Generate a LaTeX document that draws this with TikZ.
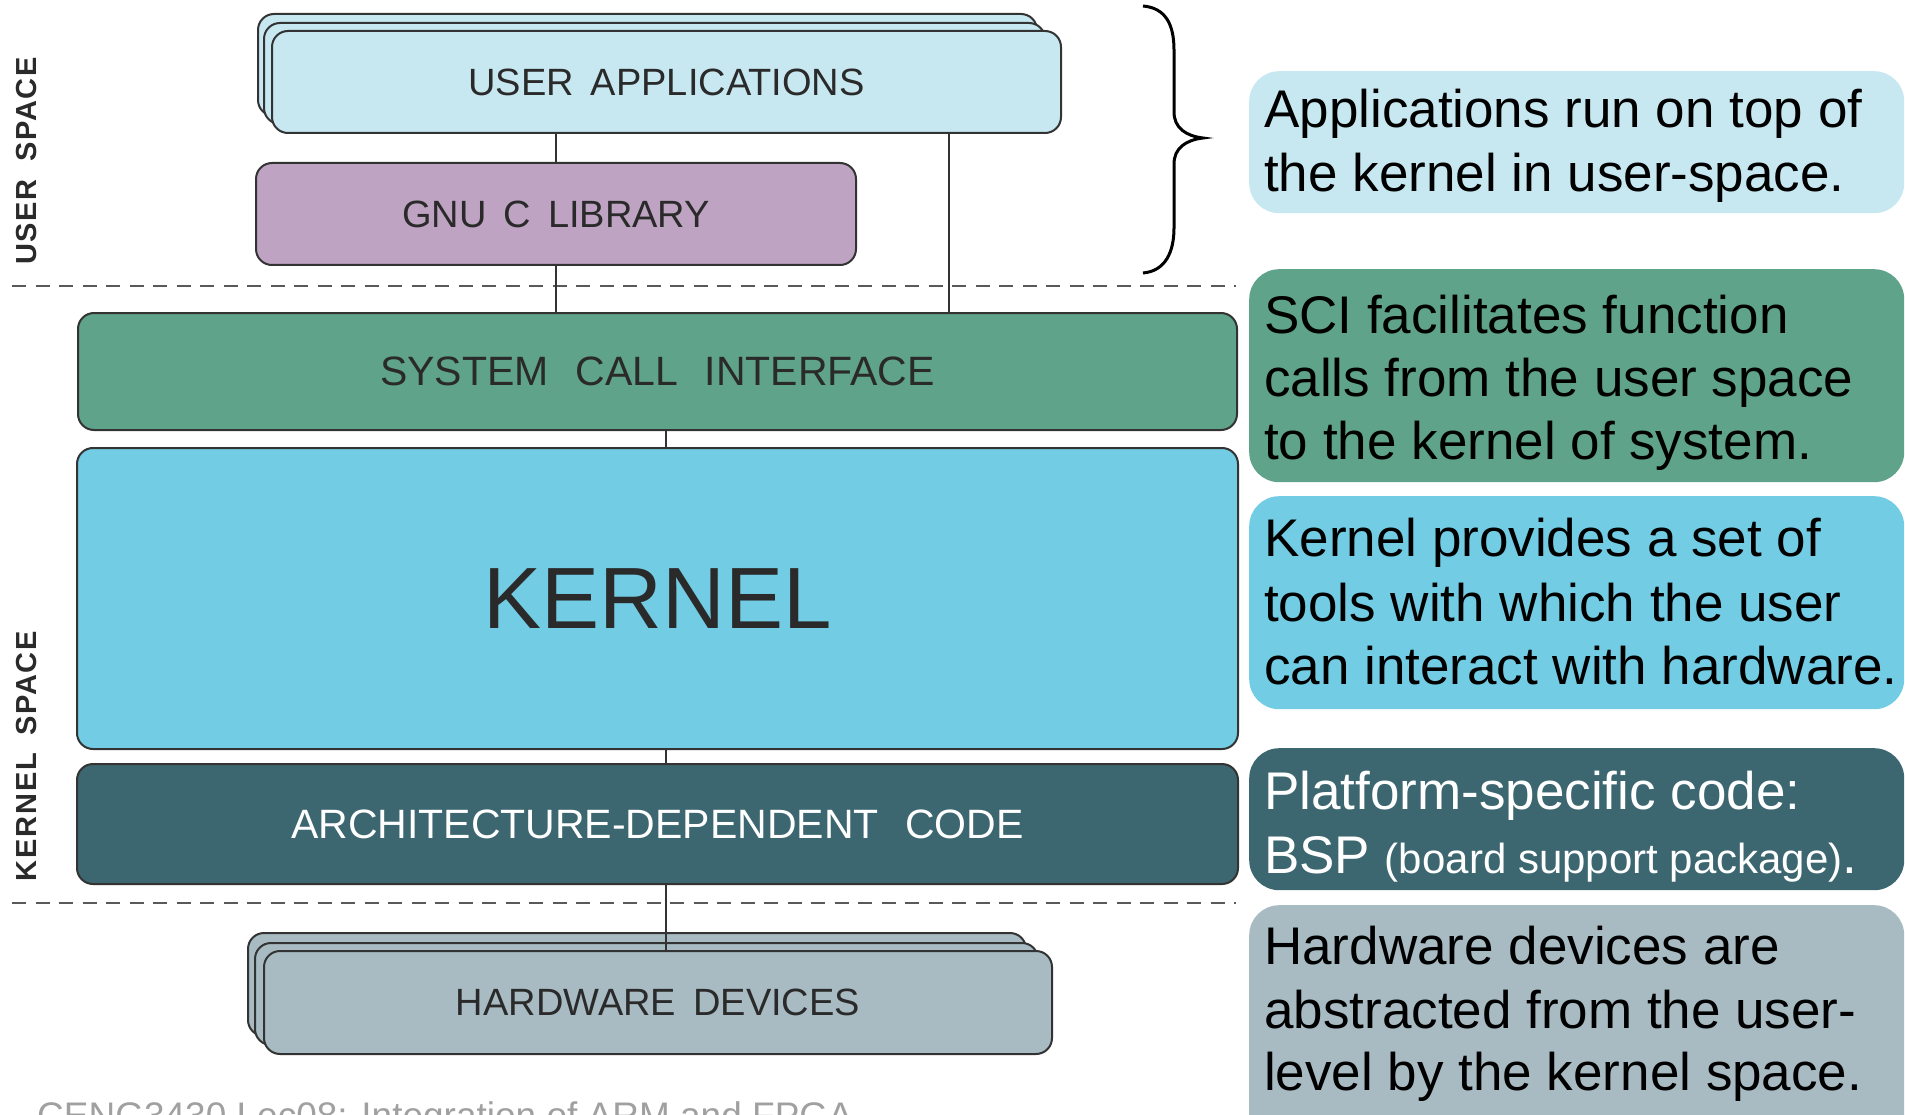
\documentclass[tikz,border=0pt]{standalone}
\usepackage{fontspec}
\setmainfont{Liberation Sans}
\setsansfont{Liberation Sans}
\newfontfamily\widesans[LetterSpace=6]{Liberation Sans}
\definecolor{cua}{HTML}{C8E8F1}
\definecolor{cgnu}{HTML}{BFA3C3}
\definecolor{csci}{HTML}{5FA38A}
\definecolor{ckern}{HTML}{72CCE4}
\definecolor{carch}{HTML}{3C6770}
\definecolor{chw}{HTML}{A8BBC3}
\definecolor{cline}{HTML}{333333}
\definecolor{ctext}{HTML}{2A2A2A}
\definecolor{cfoot}{HTML}{A0A0A0}
\tikzset{
  blk/.style={draw=cline, line width=2pt, rounded corners=16pt, inner sep=0pt,
    anchor=north west, text=ctext, font=\fontsize{38}{40}\selectfont},
  note/.style={draw=none, rounded corners=30pt, inner sep=0pt, anchor=north west},
  ntxt/.style={anchor=base west, inner sep=0pt, text=black, font=\fontsize{53}{64}\selectfont},
  conn/.style={draw=cline, line width=1.5pt},
  sep/.style={draw=black!65, line width=2.5pt, dash pattern=on 14pt off 9.5pt},
  side/.style={rotate=90, inner sep=0pt, text=ctext, font=\widesans\bfseries\fontsize{29}{30}\selectfont}
}
\begin{document}
\begin{tikzpicture}[x=1pt,y=-1pt]
\useasboundingbox (0,0) rectangle (1905,1115);
% stacked user applications
\node[blk, fill=cua, minimum width=779pt, minimum height=102pt] (uab) at (257,13) {};
\node[blk, fill=cua, minimum width=781pt, minimum height=101pt] (uam) at (263,22) {};
\node[blk, fill=cua, minimum width=789pt, minimum height=102pt] (ua) at (271,30) {USER\hspace{0.45em}APPLICATIONS};
\node[blk, fill=cgnu, minimum width=600pt, minimum height=102pt] (gnu) at (255,162) {GNU\hspace{0.45em}C\hspace{0.45em}LIBRARY};
\node[blk, fill=csci, minimum width=1159pt, minimum height=117pt, font=\fontsize{41}{43}\selectfont] (sci) at (77,312) {SYSTEM\hspace{0.65em}CALL\hspace{0.65em}INTERFACE};
\node[blk, fill=ckern, minimum width=1161pt, minimum height=301pt, font=\fontsize{87}{90}\selectfont] (kern) at (76,447) {KERNEL};
\node[blk, fill=carch, text=white, minimum width=1161pt, minimum height=120pt, font=\fontsize{41}{43}\selectfont] (arch) at (76,763) {ARCHITECTURE-DEPENDENT\hspace{0.65em}CODE};
\node[blk, fill=chw, minimum width=778pt, minimum height=103pt] (hwb) at (247,932) {};
\node[blk, fill=chw, minimum width=783pt, minimum height=102pt] (hwm) at (254,942) {};
\node[blk, fill=chw, minimum width=788pt, minimum height=103pt] (hw) at (263,950) {HARDWARE\hspace{0.45em}DEVICES};
% separators
\coordinate (s1a) at (12,286); \coordinate (s1b) at (1236,286);
\coordinate (s2a) at (12,903); \coordinate (s2b) at (1236,903);
\draw[sep] (s1a) -- (s1b);
\draw[sep] (s2a) -- (s2b);
% connectors
\coordinate (xa) at (556,0);
\coordinate (xb) at (949,0);
\coordinate (xc) at (666,0);
\draw[conn] (ua.south -| xa) -- (gnu.north -| xa);
\draw[conn] (gnu.south -| xa) -- (sci.north -| xa);
\draw[conn] (ua.south -| xb) -- (sci.north -| xb);
\draw[conn] (sci.south -| xc) -- (kern.north -| xc);
\draw[conn] (kern.south -| xc) -- (arch.north -| xc);
\draw[conn] (arch.south -| xc) -- (hw.north -| xc);
% side labels
\node[side] (lus) at (27,161) {USER\hspace{0.6em}SPACE};
\node[side] (lks) at (27,756) {KERNEL\hspace{0.6em}SPACE};
% brace
\draw[line width=3pt, black] (1143,6) .. controls (1166,8) and (1174,25) .. (1174,50) -- (1174,112)
  .. controls (1174,128) and (1186,136) .. (1203,138)
  .. controls (1186,140) and (1174,148) .. (1174,164) -- (1174,228)
  .. controls (1174,251) and (1166,271) .. (1143,273);
% notes
\node[note, fill=cua, minimum width=655pt, minimum height=142pt] (n1) at (1249,71) {};
\node[note, fill=csci, minimum width=655pt, minimum height=213pt] (n2) at (1249,269) {};
\node[note, fill=ckern, minimum width=655pt, minimum height=213pt] (n3) at (1249,496) {};
\node[note, fill=carch, minimum width=655pt, minimum height=142pt] (n4) at (1249,748) {};
\node[note, fill=chw, minimum width=655pt, minimum height=260pt] (n5) at (1249,905) {};
\node[ntxt] (t11) at (1264,128) {Applications run on top of};
\node[ntxt] (t12) at (1264,192) {the kernel in user-space.};
\node[ntxt] (t21) at (1264,333) {SCI facilitates function};
\node[ntxt] (t22) at (1264,396) {calls from the user space};
\node[ntxt] (t23) at (1264,459) {to the kernel of system.};
\node[ntxt] (t31) at (1264,556) {Kernel provides a set of};
\node[ntxt] (t32) at (1264,621) {tools with which the user};
\node[ntxt] (t33) at (1264,684) {can interact with hardware.};
\node[ntxt, text=white] (t41) at (1264,809) {Platform-specific code:};
\node[ntxt, text=white] (t42) at (1264,873) {BSP {\fontsize{42}{45}\selectfont (board support package)}.};
\node[ntxt] (t51) at (1264,964) {Hardware devices are};
\node[ntxt] (t52) at (1264,1028) {abstracted from the user-};
\node[ntxt] (t53) at (1264,1090) {level by the kernel space.};
% footer
\node[anchor=base west, inner sep=0pt, text=cfoot, font=\fontsize{37}{40}\selectfont] (foot) at (37,1128) {CENG3430 Lec08: Integration of ARM and FPGA};
\end{tikzpicture}
\end{document}
